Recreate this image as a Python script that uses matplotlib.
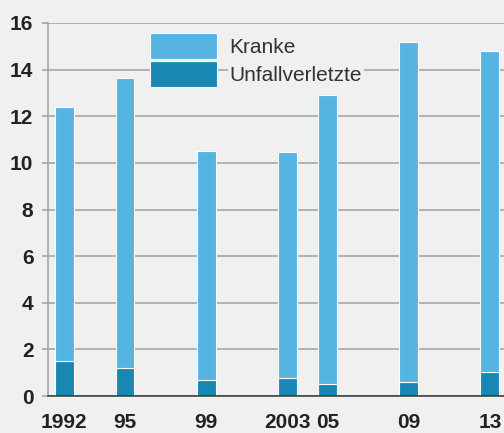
import matplotlib
matplotlib.use("Agg")
import matplotlib.pyplot as plt

# years and values (in millions)
years = [1992, 1995, 1999, 2003, 2005, 2009, 2013]
tick_labels = ["1992", "95", "99", "2003", "05", "09", "13"]
unfallverletzte = [1.5, 1.2, 0.7, 0.78, 0.52, 0.6, 1.05]
kranke = [10.9, 12.45, 9.8, 9.67, 12.38, 14.6, 13.75]

bg = "#f0f0f0"
light = "#55b4e0"
dark = "#1887b4"

plt.rcParams["font.family"] = ["Liberation Sans", "DejaVu Sans"]

fig = plt.figure(figsize=(5.04, 4.33), dpi=100, facecolor=bg)
ax = fig.add_axes([48 / 504, 1 - 396 / 433, 456 / 504, 373 / 433])
ax.set_facecolor(bg)

ax.bar(years, unfallverletzte, width=0.93, color=dark, edgecolor="white",
       linewidth=0.8, label="Unfallverletzte", zorder=3)
ax.bar(years, kranke, width=0.93, bottom=unfallverletzte, color=light,
       edgecolor="white", linewidth=0.8, label="Kranke", zorder=3)

ax.set_xlim(1991.2, 2013.7)
ax.set_ylim(0, 16)
ax.set_yticks(range(0, 17, 2))
ax.set_xticks(years)
ax.set_xticklabels(tick_labels)

ax.grid(axis="y", color="#a0a0a0", linewidth=1.1, zorder=0)
ax.grid(axis="x", visible=False)
for s in ["top", "right"]:
    ax.spines[s].set_visible(False)
ax.spines["left"].set_color("#a0a0a0")
ax.spines["left"].set_linewidth(1.1)
ax.spines["bottom"].set_color("#333333")
ax.spines["bottom"].set_linewidth(1.1)
ax.spines["bottom"].set_zorder(4)

ax.tick_params(axis="y", length=4.5, width=1.1, color="#a0a0a0", pad=6,
               labelsize=15, labelcolor="#222222")
ax.tick_params(axis="x", length=0, pad=12, labelsize=15, labelcolor="#222222")
for lab in ax.get_xticklabels() + ax.get_yticklabels():
    lab.set_fontweight("bold")

handles, labels = ax.get_legend_handles_labels()
leg = ax.legend(handles[::-1], labels[::-1], loc="upper left",
                bbox_to_anchor=(0.2237, 0.973), frameon=False, borderpad=0,
                fontsize=15, handlelength=3.22, handleheight=1.55,
                handletextpad=0.6, labelspacing=0.1, borderaxespad=0)
leg.set_zorder(5)
for t in leg.get_texts():
    t.set_color("#333333")
    t.set_bbox(dict(facecolor=bg, edgecolor="none", pad=1))

fig.savefig("out.png", dpi=100, facecolor=bg)
